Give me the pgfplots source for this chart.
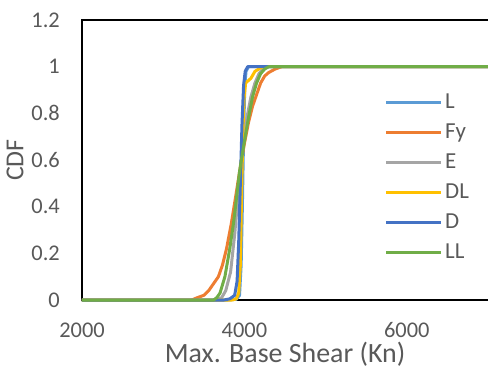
\documentclass[border=0pt]{standalone}
\usepackage{pgfplots}
\pgfplotsset{compat=1.18}
\usepackage{fontspec}
\setmainfont{Carlito}
\definecolor{cL}{HTML}{5B9BD5}
\definecolor{cFy}{HTML}{ED7D31}
\definecolor{cE}{HTML}{A5A5A5}
\definecolor{cDL}{HTML}{FFC000}
\definecolor{cD}{HTML}{4472C4}
\definecolor{cLL}{HTML}{70AD47}
\definecolor{txt}{HTML}{595959}
\begin{document}
\begin{tikzpicture}
\path[use as bounding box] (-82bp,-72bp) rectangle (406bp,300bp);
\begin{axis}[
  scale only axis, width=406bp, height=280bp,
  xmin=2000, xmax=7000, ymin=0, ymax=1.2,
  clip=false,
  xtick={2000,4000,6000}, xticklabels={2000,4000,6000},
  ytick={0,0.2,0.4,0.6,0.8,1,1.2}, yticklabels={0,0.2,0.4,0.6,0.8,1,1.2},
  major tick length=0pt, tick style={draw=none},
  axis line style={draw=none},
  ticklabel style={font=\fontsize{22.5}{26}\selectfont, text=txt, inner sep=0pt},
  xticklabel style={anchor=base, yshift=-37bp},
  yticklabel style={anchor=east, xshift=-22bp},
  xlabel={Max. Base Shear (Kn)},
  ylabel={CDF},
  label style={text=txt, inner sep=0pt},
  xlabel style={font=\fontsize{28}{32}\selectfont, at={(axis description cs:0.5,0)}, anchor=base, yshift=-62bp},
  ylabel style={font=\fontsize{26}{30}\selectfont, at={(axis description cs:-0.1441,0.5)}, anchor=base},
  legend style={draw=none, fill=none, inner sep=0pt,
    at={(axis description cs:0.745,0.76)}, anchor=north west,
    font=\fontsize{23}{27}\selectfont, text=txt, row sep=0pt,
    nodes={inner xsep=2.5bp, inner ysep=3bp, text height=18bp, text depth=6bp}},
  legend cell align=left,
  legend image code/.code={\draw[#1, line width=3bp] (0bp,0bp) -- (55bp,0bp);},
  every axis plot/.append style={line width=3bp, mark=none, line join=round},
]
\draw[black, line width=1.6bp] (rel axis cs:1,1) -- (rel axis cs:0,1) -- (rel axis cs:0,0) -- (rel axis cs:1,0);
\addplot[cL] coordinates {(2000,0) (3800,0) (3900,0.003) (3940,0.02) (3960,0.15) (3975,0.4) (3990,0.7) (4005,0.92) (4020,0.98) (4050,1) (7000,1)};
\addlegendentry{L}
\addplot[cFy] coordinates {(2000,0) (3350,0) (3420,0.01) (3500,0.02) (3560,0.04) (3620,0.07) (3680,0.1) (3730,0.15) (3780,0.22) (3840,0.33) (3900,0.46) (3950,0.57) (4000,0.67) (4050,0.76) (4100,0.83) (4150,0.88) (4200,0.93) (4250,0.96) (4300,0.975) (4380,0.99) (4460,1) (7000,1)};
\addlegendentry{Fy}
\addplot[cE] coordinates {(2000,0) (3650,0) (3720,0.01) (3770,0.04) (3830,0.12) (3880,0.28) (3930,0.48) (3980,0.65) (4030,0.78) (4080,0.87) (4130,0.93) (4180,0.97) (4240,0.995) (4300,1) (7000,1)};
\addlegendentry{E}
\addplot[cDL] coordinates {(2000,0) (3850,0) (3900,0.005) (3930,0.03) (3950,0.15) (3965,0.45) (3980,0.7) (3995,0.86) (4015,0.93) (4080,0.95) (4130,0.98) (4200,0.995) (4250,1) (7000,1)};
\addlegendentry{DL}
\addplot[cD] coordinates {(2000,0) (3750,0) (3820,0.005) (3880,0.02) (3910,0.08) (3930,0.25) (3950,0.5) (3970,0.75) (3990,0.92) (4010,0.98) (4040,1) (7000,1)};
\addlegendentry{D}
\addplot[cLL] coordinates {(2000,0) (3620,0) (3660,0.01) (3700,0.03) (3760,0.1) (3820,0.22) (3870,0.34) (3940,0.55) (4000,0.68) (4050,0.78) (4100,0.87) (4150,0.93) (4200,0.97) (4250,0.99) (4300,1) (7000,1)};
\addlegendentry{LL}
\end{axis}
\end{tikzpicture}
\end{document}
